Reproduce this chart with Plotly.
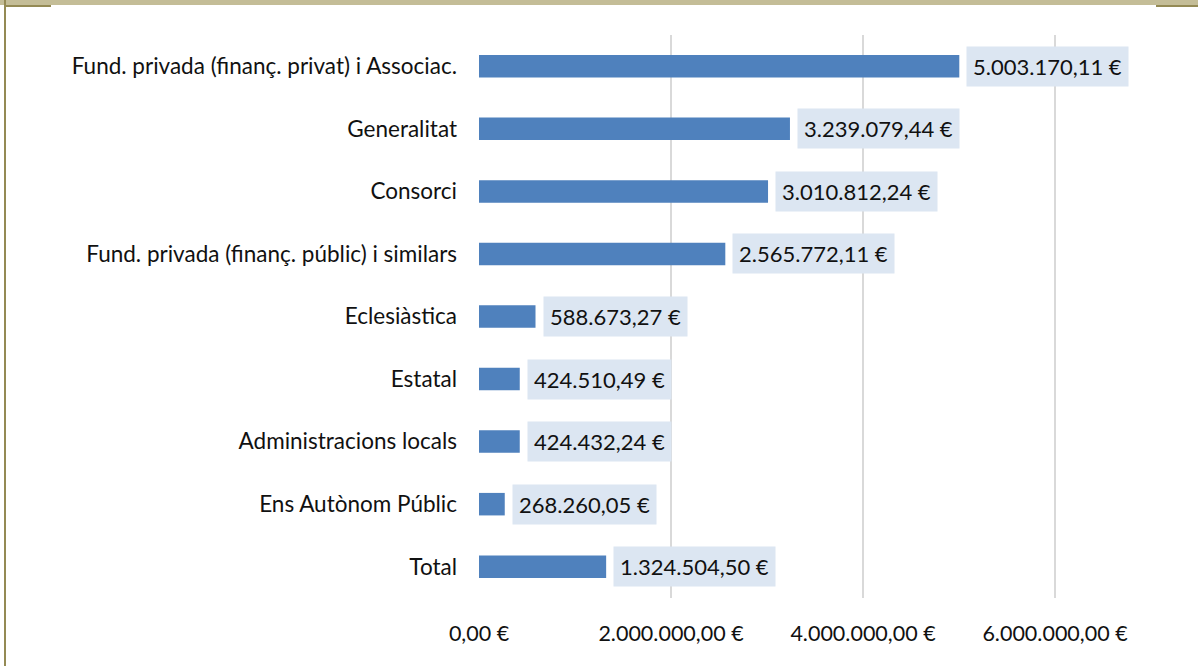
import plotly.graph_objects as go

categories = [
    "Fund. privada (finanç. privat) i Associac.",
    "Generalitat",
    "Consorci",
    "Fund. privada (finanç. públic) i similars",
    "Eclesiàstica",
    "Estatal",
    "Administracions locals",
    "Ens Autònom Públic",
    "Total",
]
values = [5003170.11, 3239079.44, 3010812.24, 2565772.11, 588673.27,
          424510.49, 424432.24, 268260.05, 1324504.50]
tick_values = [0, 2000000, 4000000, 6000000]

FONT = "Lato"
TXT = "#111111"
W, H = 1198, 666
ML, MR, MT, MB = 479, 47, 35, 68


def eur(v):
    s = f"{v:,.2f}"
    s = s.replace(",", "X").replace(".", ",").replace("X", ".")
    return s + " €"


fig = go.Figure()
fig.add_trace(go.Bar(
    x=values, y=categories, orientation="h",
    marker=dict(color="#4F81BD", line=dict(width=0)),
    width=0.36, hoverinfo="skip",
))

for c, v in zip(categories, values):
    fig.add_annotation(
        x=v, y=c, xref="x", yref="y", text=eur(v),
        showarrow=False, xanchor="left", yanchor="middle", xshift=7,
        bgcolor="#DCE6F2", borderpad=6,
        font=dict(family=FONT, size=22, color=TXT),
    )

pw = W - ML - MR
ph = H - MT - MB


def px_x(p):
    return (p - ML) / pw


def px_y(p):
    return (H - MB - p) / ph


shapes = [
    dict(type="rect", xref="paper", yref="paper", x0=px_x(0), x1=px_x(W),
         y0=px_y(0), y1=px_y(5), fillcolor="#C4BD97", line=dict(width=0), layer="above"),
    dict(type="rect", xref="paper", yref="paper", x0=px_x(4), x1=px_x(51),
         y0=px_y(5), y1=px_y(7), fillcolor="#948A54", line=dict(width=0), layer="above"),
    dict(type="rect", xref="paper", yref="paper", x0=px_x(1156), x1=px_x(W),
         y0=px_y(5), y1=px_y(7), fillcolor="#948A54", line=dict(width=0), layer="above"),
    dict(type="rect", xref="paper", yref="paper", x0=px_x(4), x1=px_x(6),
         y0=px_y(0), y1=px_y(H), fillcolor="#948A54", line=dict(width=0), layer="above"),
]

fig.update_layout(
    width=W, height=H,
    margin=dict(l=ML, r=MR, t=MT, b=MB, pad=0),
    paper_bgcolor="#FFFFFF", plot_bgcolor="#FFFFFF",
    showlegend=False,
    font=dict(family=FONT, size=21, color=TXT),
    shapes=shapes,
    xaxis=dict(
        range=[0, 7000000], tickvals=tick_values,
        ticktext=[eur(t) for t in tick_values],
        showgrid=True, gridcolor="#D9D9D9", gridwidth=2, zeroline=False,
        showline=False, ticks="", ticklabelstandoff=20,
        tickfont=dict(family=FONT, size=21.5, color=TXT),
        fixedrange=True,
    ),
    yaxis=dict(
        autorange="reversed", showgrid=False, zeroline=False, showline=False,
        ticks="", ticklabelstandoff=21,
        tickfont=dict(family=FONT, size=22.5, color=TXT),
        fixedrange=True,
    ),
)

fig.write_html(
    "out.html",
    config={"displayModeBar": False},
    post_script="document.body.style.margin='0';document.body.style.overflow='hidden';",
)
